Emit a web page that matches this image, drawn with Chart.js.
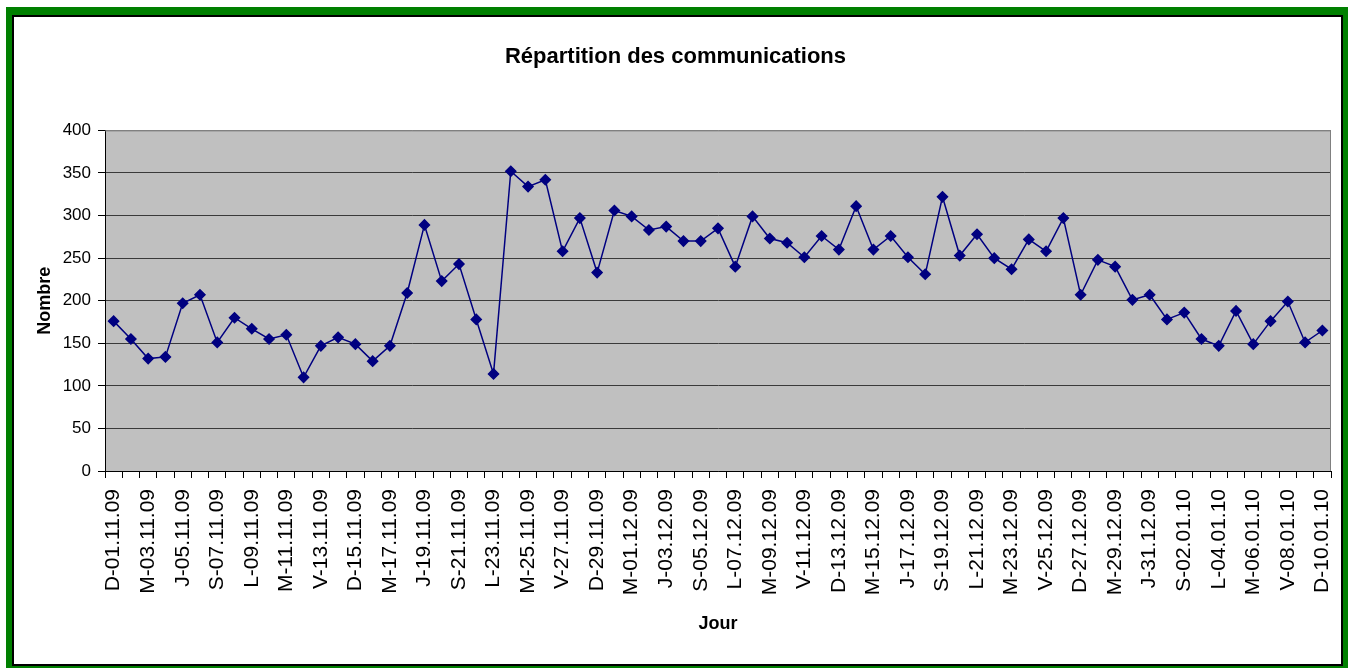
<!DOCTYPE html>
<html>
<head>
<meta charset="utf-8">
<script src="https://cdn.jsdelivr.net/npm/chart.js@4/dist/chart.umd.min.js"></script>
<style>
  body { margin: 0; background: #fff; }
  .frame {
    position: absolute; left: 6px; top: 7px; width: 1342px; height: 662px;
    box-sizing: border-box; border-style: solid; border-color: #008000;
    border-width: 8px 5px 3px 6px;
  }
  .inner { width: 100%; height: 100%; box-sizing: border-box; border: 2px solid #000; background: #fff; }
  canvas { position: absolute; left: 0; top: 0; }
</style>
</head>
<body>
<div class="frame"><div class="inner"></div></div>
<canvas id="chart" width="1348" height="668"></canvas>
<script>
const days = [
  "D-01.11.09", "L-02.11.09", "M-03.11.09", "M-04.11.09", "J-05.11.09", "V-06.11.09", "S-07.11.09",
  "D-08.11.09", "L-09.11.09", "M-10.11.09", "M-11.11.09", "J-12.11.09", "V-13.11.09", "S-14.11.09",
  "D-15.11.09", "L-16.11.09", "M-17.11.09", "M-18.11.09", "J-19.11.09", "V-20.11.09", "S-21.11.09",
  "D-22.11.09", "L-23.11.09", "M-24.11.09", "M-25.11.09", "J-26.11.09", "V-27.11.09", "S-28.11.09",
  "D-29.11.09", "L-30.11.09", "M-01.12.09", "M-02.12.09", "J-03.12.09", "V-04.12.09", "S-05.12.09",
  "D-06.12.09", "L-07.12.09", "M-08.12.09", "M-09.12.09", "J-10.12.09", "V-11.12.09", "S-12.12.09",
  "D-13.12.09", "L-14.12.09", "M-15.12.09", "M-16.12.09", "J-17.12.09", "V-18.12.09", "S-19.12.09",
  "D-20.12.09", "L-21.12.09", "M-22.12.09", "M-23.12.09", "J-24.12.09", "V-25.12.09", "S-26.12.09",
  "D-27.12.09", "L-28.12.09", "M-29.12.09", "M-30.12.09", "J-31.12.09", "V-01.01.10", "S-02.01.10",
  "D-03.01.10", "L-04.01.10", "M-05.01.10", "M-06.01.10", "J-07.01.10", "V-08.01.10", "S-09.01.10",
  "D-10.01.10"
];

const communications = [
  176, 155, 132, 134, 197, 207, 151, 180, 167, 155, 160, 110, 147, 157, 149, 129, 147, 209,
  289, 223, 243, 178, 114, 352, 334, 342, 258, 297, 233, 306, 299, 283, 287, 270, 270, 285,
  240, 299, 273, 268, 251, 276, 260, 311, 260, 276, 251, 231, 322, 253, 278, 250, 237, 272,
  258, 297, 207, 248, 240, 201, 207, 178, 186, 155, 147, 188, 149, 176, 199, 151, 165
];

const yTicks = [0, 50, 100, 150, 200, 250, 300, 350, 400];

// grey plot background + grey top/right border like the Excel chart
const plotArea = {
  id: "plotArea",
  beforeDraw(chart) {
    const { ctx, chartArea: a } = chart;
    ctx.save();
    ctx.fillStyle = "#c0c0c0";
    ctx.fillRect(a.left, a.top, a.right - a.left, a.bottom - a.top);
    ctx.restore();
  },
  beforeDatasetsDraw(chart) {
    const { ctx, chartArea: a } = chart;
    ctx.save();
    ctx.strokeStyle = "#808080";
    ctx.lineWidth = 1;
    ctx.beginPath();
    ctx.moveTo(a.left, a.top + 0.5);
    ctx.lineTo(a.right - 0.5, a.top + 0.5);
    ctx.lineTo(a.right - 0.5, a.bottom);
    ctx.stroke();
    ctx.restore();
  }
};

const font = "'Liberation Sans', Arial, sans-serif";

new Chart(document.getElementById("chart").getContext("2d"), {
  type: "line",
  data: {
    labels: days,
    datasets: [
      {
        label: "Communications",
        data: communications,
        borderColor: "#000080",
        backgroundColor: "#000080",
        borderWidth: 1.5,
        pointStyle: "rectRot",
        pointRadius: 5,
        tension: 0,
      },
    ],
  },
  options: {
    responsive: false,
    animation: false,
    layout: { padding: { top: 20, left: 20, right: 17, bottom: 10 } },
    plugins: {
      legend: { display: false },
      tooltip: { enabled: false },
      title: {
        display: true,
        text: "Répartition des communications",
        color: "#000",
        font: { family: font, size: 22, weight: "bold" },
        padding: { top: 24, bottom: 60 },
      },
    },
    scales: {
      x: {
        offset: true,
        afterFit: (s) => {
          s.height = 187;
          s.paddingLeft = 0;
          s.paddingRight = 0;
        },
        grid: {
          offset: true,
          drawOnChartArea: false,
          drawTicks: true,
          tickLength: 7,
          tickColor: "#000",
        },
        border: { color: "#000", width: 1 },
        ticks: {
          autoSkip: false,
          minRotation: 90,
          maxRotation: 90,
          padding: 11,
          color: "#000",
          font: { family: font, size: 21 },
          callback: (v, i) => (i % 2 === 0 ? days[i] : ""),
        },
        title: {
          display: true,
          text: "Jour",
          color: "#000",
          font: { family: font, size: 18, weight: "bold" },
          padding: { top: 4, bottom: 23 },
        },
      },
      y: {
        min: 0,
        max: 400,
        afterFit: (s) => { s.width = 85; },
        afterBuildTicks: (s) => { s.ticks = yTicks.map((v) => ({ value: v })); },
        grid: {
          color: (c) => (c.tick && c.tick.value === 400 ? "#808080" : "#3a3a3a"),
          tickColor: "#000",
          tickLength: 7,
        },
        border: { color: "#000", width: 1 },
        ticks: {
          padding: 7,
          color: "#000",
          font: { family: font, size: 17 },
        },
        title: {
          display: true,
          text: "Nombre",
          color: "#000",
          font: { family: font, size: 18, weight: "bold" },
          padding: { top: 14, bottom: 4 },
        },
      },
    },
  },
  plugins: [plotArea],
});
</script>
</body>
</html>
